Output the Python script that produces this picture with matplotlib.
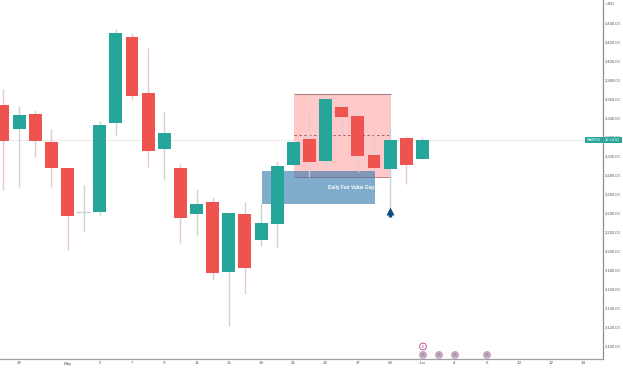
#!/usr/bin/env python
"""Daily candles with premium box and fair value gap."""
import matplotlib
matplotlib.use("Agg")
import matplotlib.pyplot as plt
from matplotlib.patches import Circle, Rectangle
import numpy as np

plt.rcParams["font.family"] = ["Liberation Sans", "DejaVu Sans"]

# daily candles
opens = [3353.7, 3328.4, 3344.2, 3314.7, 3287.4, 3240.0, 3241.0, 3334.7, 3425.3, 3366.3,
         3307.4, 3287.4, 3238.9, 3251.6, 3177.9, 3239.0, 3211.6, 3228.4, 3290.5, 3317.9,
         3294.7, 3351.6, 3342.1, 3301.0, 3286.3, 3319.0, 3296.8]
closes = [3315.8, 3343.2, 3315.8, 3287.4, 3236.8, 3240.6, 3332.6, 3429.5, 3363.2, 3305.3,
          3324.2, 3234.7, 3249.5, 3176.8, 3240.0, 3182.0, 3229.5, 3289.5, 3314.7, 3293.7,
          3360.0, 3341.0, 3300.0, 3287.4, 3316.8, 3290.5, 3316.8]
highs = [3370.5, 3352.6, 3348.4, 3328.4, 3288.4, 3269.5, 3336.8, 3433.7, 3429.5, 3413.7,
         3346.3, 3291.6, 3265.3, 3256.8, 3240.0, 3251.6, 3250.5, 3294.7, 3314.7, 3345.3,
         3363.2, 3354.7, 3347.4, 3323.2, 3329.5, 3321.0, 3320.0]
lows = [3264.2, 3267.4, 3299.0, 3267.4, 3201.0, 3221.0, 3238.0, 3322.0, 3359.0, 3288.4,
        3274.7, 3208.4, 3215.8, 3169.5, 3121.0, 3154.7, 3205.3, 3204.2, 3290.5, 3277.9,
        3288.4, 3322.0, 3283.2, 3284.2, 3245.3, 3270.5, 3296.8]

price_ticks = [3100, 3120, 3140, 3160, 3180, 3200, 3220, 3240, 3260, 3280, 3300, 3320,
               3340, 3360, 3380, 3400, 3420, 3440]
date_pos = [1, 4, 6, 8, 10, 12, 14, 16, 18, 20, 22, 24, 26, 28, 30, 32, 34, 36]
date_labels = ["28", "May", "5", "7", "9", "11", "15", "19", "21", "23", "27", "29",
               "Jun", "4", "6", "10", "12", "14"]

RED = "#ef5350"
TEAL = "#26a69a"
W, H = 623, 368

fig = plt.figure(figsize=(W / 100, H / 100), dpi=100)
ax = fig.add_axes([0, 9 / H, 602.5 / W, 359 / H])
ax.set_xlim(-0.186, 37.17)
ax.set_ylim(3086.3, 3464.2)

for s in ["top", "left"]:
    ax.spines[s].set_visible(False)
ax.spines["right"].set_color("#8f8f8f")
ax.spines["bottom"].set_color("#a0a0a0")
ax.spines["right"].set_linewidth(0.9)
ax.spines["bottom"].set_linewidth(0.9)

ax.yaxis.tick_right()
ax.set_yticks(price_ticks)
ax.set_yticklabels([f"{p:,}.00" for p in price_ticks], fontsize=3.0, color="#555555")
ax.set_xticks(date_pos)
ax.set_xticklabels(date_labels, fontsize=3.2, color="#555555")
ax.tick_params(length=0, pad=1.8)

# zones sit under the candles
ax.add_patch(Rectangle((18.04, 3277.9), 6.01, 3365.3 - 3277.9, fc="#ffc9c9", ec="none", zorder=1))
ax.hlines(3365.3, 18.04, 24.05, color="#a88080", lw=0.8, zorder=1.5)
ax.hlines(3277.9, 18.04, 24.05, color="#c98080", lw=0.7, zorder=1.5)
ax.hlines(3322, 18.04, 24.05, color="#b05a5a", lw=0.7, ls=(0, (2.5, 2.5)), zorder=1.5)
ax.add_patch(Rectangle((16.05, 3249.5), 7.01, 3284.2 - 3249.5, fc="#2f75ab", ec="none",
                       alpha=0.6, zorder=2))
ax.text(21.6, 3267, "Daily Fair Value Gap", color="white", fontsize=3.4, fontweight="bold",
        ha="center", va="center", zorder=6)

x = np.arange(len(opens))
o, c = np.array(opens), np.array(closes)
up = c >= o
colors = [TEAL if u else RED for u in up]
wicks = ["#c9d4d3" if u else "#e6c9cc" for u in up]

# last price line
ax.axhline(closes[-1], color="#f0ebeb", lw=0.8, zorder=0.5)

ax.vlines(x, lows, highs, colors=wicks, lw=1.0, zorder=3)
ax.bar(x, np.abs(c - o), bottom=np.minimum(o, c), width=0.8, color=colors, zorder=4)
ax.hlines(closes[5], 4.6, 5.4, color="#c9d4d3", lw=1.0, zorder=4)

# entry arrow
ax.plot([24], [3242], marker="^", ms=5.2, color="#0f4c81", mec="none", zorder=6)
ax.vlines(24, 3235.5, 3242, color="#0f4c81", lw=2.4, zorder=6)

# price tag over the right axis
tag = fig.transFigure
fig.add_artist(Rectangle((585 / W, 1 - 143 / H), 37 / W, 6 / H, transform=tag, fc=TEAL, ec="none"))
fig.text(593.5 / W, 1 - 140 / H, "SA8959", fontsize=2.8, color="white", ha="center", va="center")
fig.text(612 / W, 1 - 140 / H, "15:54:55", fontsize=2.8, color="white", ha="center", va="center")
fig.add_artist(plt.Line2D([602.5 / W] * 2, [1 - 143 / H, 1 - 137 / H], color="#8f8f8f", lw=0.6))
fig.text(610 / W, 1 - 4 / H, "USD", fontsize=3.0, color="#555555", ha="center", va="center")

# event markers along the time axis
for px in [423, 439, 455, 487]:
    fig.add_artist(Circle((px, H - 355), 3.6, transform=None, fc="#c9a9c4", ec="#b79ab6", lw=0.4))
    fig.text(px / W, 1 - 355 / H, "US", fontsize=2.4, color="#7d6a8a", ha="center", va="center")
fig.add_artist(Circle((423, H - 346.5), 3.4, transform=None, fc="white", ec="#b0408c", lw=0.6))
fig.text(423 / W, 1 - 346.5 / H, "E", fontsize=2.6, color="#b0408c", ha="center", va="center")

fig.savefig("out.png", dpi=100)
